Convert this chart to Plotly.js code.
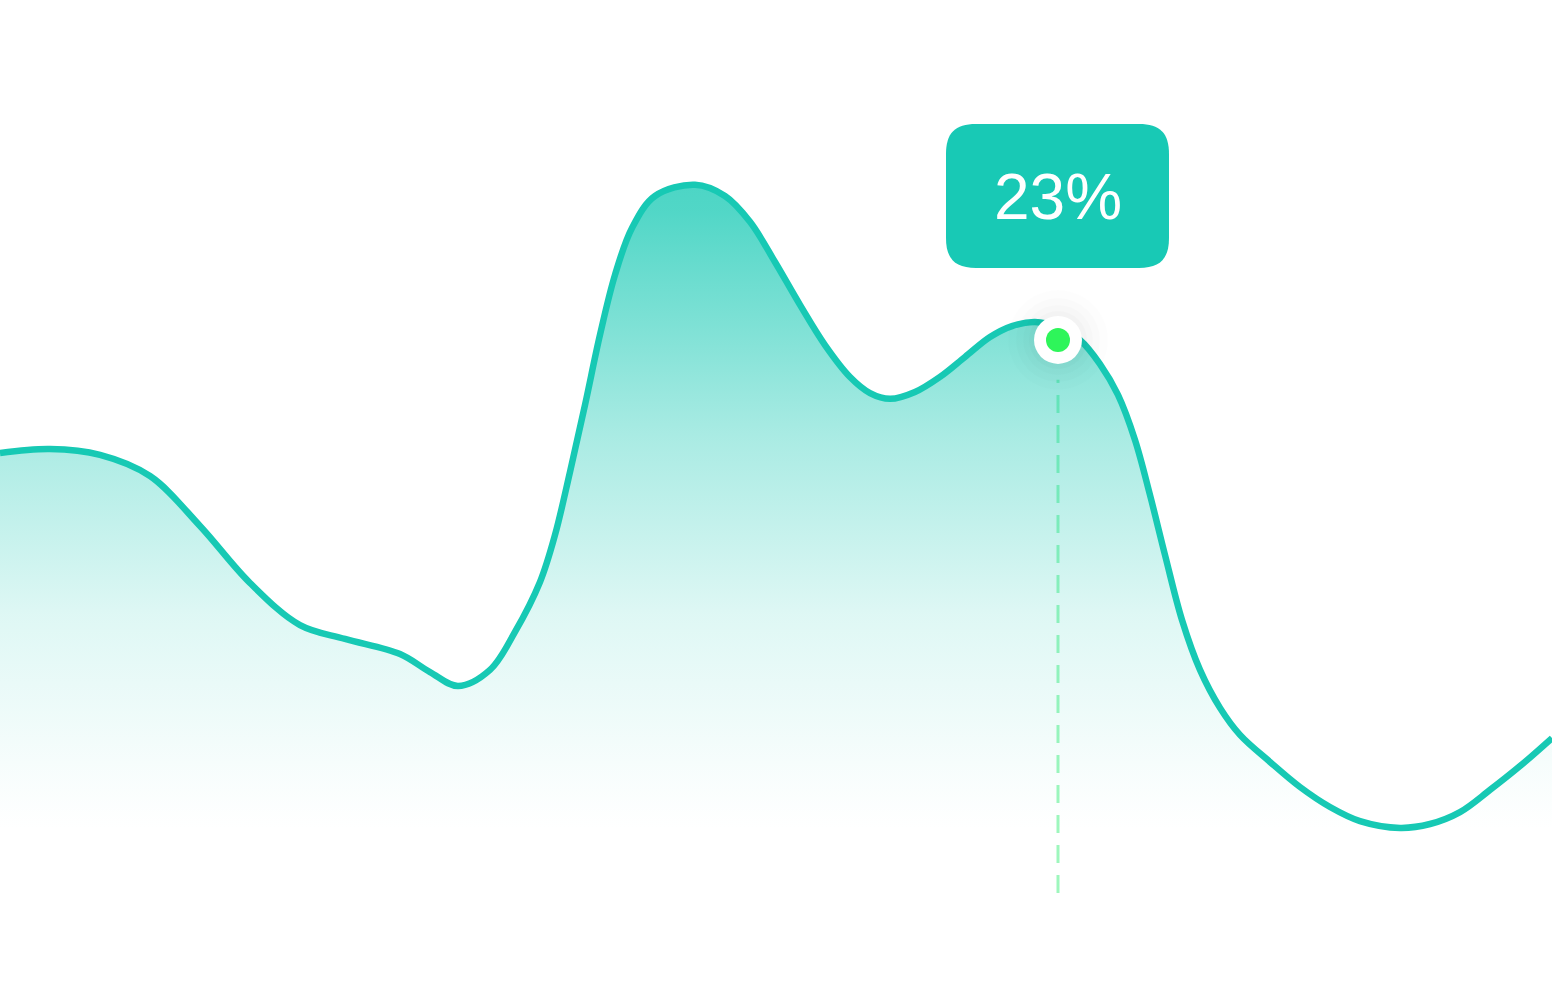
<!DOCTYPE html>
<html>
<head>
<meta charset="utf-8">
<script src="https://cdn.plot.ly/plotly-3.0.1.min.js"></script>
<style>
  html, body { margin: 0; padding: 0; background: #ffffff; }
  #chart { width: 1552px; height: 988px; }
</style>
</head>
<body>
<div id="chart"></div>
<script>
// ---- data ----
const xValues = [0, 1, 2, 3, 4, 5, 6, 6.9, 8, 8.6, 9.16, 9.8, 10.3, 10.8, 11.1, 11.4, 11.7, 12, 12.3,
                 12.64, 13.1, 13.9, 14.5, 15, 15.5, 16, 16.5, 17, 17.4, 17.8, 18.3, 18.8, 19.3, 19.8, 20.24, 20.7, 21.16, 21.6, 22,
                 22.36, 22.7, 23, 23.3, 23.64, 24, 24.4, 24.8, 25.4, 26, 26.6, 27.2, 28, 28.6, 29.2, 29.8, 30.4, 31.04];
const yValues = [18.36, 18.52, 18.28, 17.41, 15.36, 13.02, 11.29, 10.72, 10.10, 9.36, 8.79, 9.45, 11.01, 13.06, 14.99, 17.58, 20.33, 23.21, 25.67,
                 27.60, 28.91, 29.37, 28.91, 27.85, 26.20, 24.44, 22.79, 21.48, 20.82, 20.58, 20.86, 21.48, 22.30, 23.12, 23.57, 23.74, 23.53, 23.00, 22.01,
                 20.74, 18.89, 16.63, 14.17, 11.50, 9.45, 7.89, 6.78, 5.67, 4.64, 3.82, 3.24, 2.96, 3.12, 3.61, 4.52, 5.50, 6.65];
const highlightX = [21.16];
const highlightY = [23];
const highlightLabel = ["23%"];

// ---- styles ----
const teal = '#17c9b4';
const xRange = [0, 31.04];
const yRange = [-3.614, 36.96];

const traces = [
  {
    x: xValues, y: yValues, type: 'scatter', mode: 'lines',
    line: { color: teal, width: 6.5, shape: 'spline', smoothing: 1, simplify: false },
    fill: 'tozeroy',
    fillgradient: {
      type: 'vertical',
      start: 2.87, stop: 29.37,
      colorscale: [
        [0, 'rgba(23,201,180,0)'],
        [0.085, 'rgba(23,201,180,0.03)'],
        [0.333, 'rgba(23,201,180,0.14)'],
        [0.612, 'rgba(23,201,180,0.37)'],
        [0.961, 'rgba(23,201,180,0.75)'],
        [1, 'rgba(23,201,180,0.77)']
      ]
    },
    hoverinfo: 'skip'
  },
  { x: highlightX, y: highlightY, mode: 'markers', type: 'scatter',
    marker: { size: 100, color: 'rgba(0,0,0,0.008)', line: { width: 0 } }, hoverinfo: 'skip' },
  { x: highlightX, y: highlightY, mode: 'markers', type: 'scatter',
    marker: { size: 84, color: 'rgba(0,0,0,0.01)', line: { width: 0 } }, hoverinfo: 'skip' },
  { x: highlightX, y: highlightY, mode: 'markers', type: 'scatter',
    marker: { size: 70, color: 'rgba(0,0,0,0.012)', line: { width: 0 } }, hoverinfo: 'skip' },
  { x: highlightX, y: highlightY, mode: 'markers', type: 'scatter',
    marker: { size: 58, color: 'rgba(0,0,0,0.015)', line: { width: 0 } }, hoverinfo: 'skip' },
  { x: highlightX, y: highlightY, mode: 'markers', type: 'scatter',
    marker: { size: 48, color: '#ffffff', line: { width: 0 } }, hoverinfo: 'skip' },
  { x: highlightX, y: highlightY, mode: 'markers', type: 'scatter',
    marker: { size: 24, color: '#2ef55a', line: { width: 0 } }, hoverinfo: 'skip' }
];

// rounded (squircle-like) box path, pixel offsets relative to the highlighted point (y up)
function roundedBox(x0, x1, y0, y1, r) {
  const k = 0.3 * r;
  return `M${x0 + r},${y1} L${x1 - r},${y1} C${x1 - k},${y1} ${x1},${y1 - k} ${x1},${y1 - r} ` +
         `L${x1},${y0 + r} C${x1},${y0 + k} ${x1 - k},${y0} ${x1 - r},${y0} L${x0 + r},${y0} ` +
         `C${x0 + k},${y0} ${x0},${y0 + k} ${x0},${y0 + r} L${x0},${y1 - r} ` +
         `C${x0},${y1 - k} ${x0 + k},${y1} ${x0 + r},${y1} Z`;
}

const layout = {
  width: 1552, height: 988,
  margin: { l: 0, r: 0, t: 0, b: 0, pad: 0 },
  paper_bgcolor: '#ffffff', plot_bgcolor: '#ffffff',
  showlegend: false,
  xaxis: { range: xRange, visible: false, fixedrange: true },
  yaxis: { range: yRange, visible: false, fixedrange: true },
  shapes: [
    { type: 'line', xref: 'x', yref: 'y', layer: 'below',
      x0: highlightX[0], x1: highlightX[0], y0: 0.29, y1: 21.36,
      line: { color: '#9ef7bd', width: 3, dash: '18px,12px' } },
    { type: 'path', xref: 'x', yref: 'y', xsizemode: 'pixel', ysizemode: 'pixel',
      xanchor: highlightX[0], yanchor: highlightY[0],
      path: roundedBox(-112, 111, 72, 216, 30),
      fillcolor: '#18c9b5', line: { width: 0 } }
  ],
  annotations: [
    { x: highlightX[0], y: highlightY[0], xref: 'x', yref: 'y',
      text: highlightLabel[0], showarrow: false, yshift: 143, xshift: 0,
      font: { family: '"Liberation Sans", Arial, sans-serif', size: 64, color: '#ffffff' } }
  ]
};

Plotly.newPlot('chart', traces, layout, { displayModeBar: false, staticPlot: true });
</script>
</body>
</html>
